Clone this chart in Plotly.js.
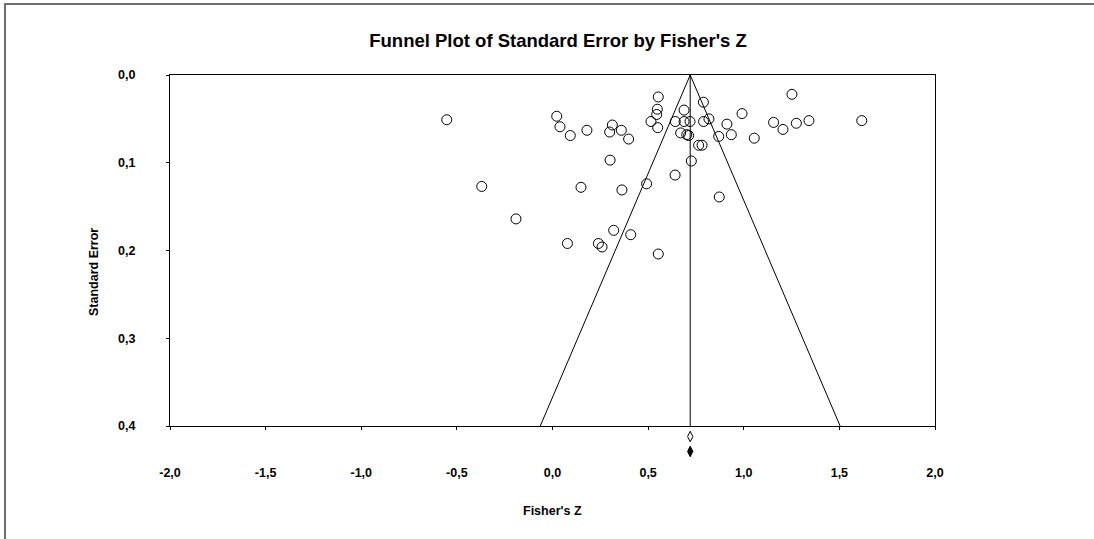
<!DOCTYPE html>
<html>
<head>
<meta charset="utf-8">
<script src="https://cdn.plot.ly/plotly-3.0.1.min.js"></script>
<style>
  html, body { margin: 0; padding: 0; background: #fff; }
  #wrap { position: relative; width: 1094px; height: 539px; overflow: hidden; }
  #chart { position: absolute; left: 0; top: 0; width: 1094px; height: 539px; }
  .edge { position: absolute; background: #6e6e6e; }
</style>
</head>
<body>
<div id="wrap">
  <div id="chart"></div>
  <div class="edge" style="left:4px; top:3px; width:1090px; height:2px;"></div>
  <div class="edge" style="left:4px; top:3px; width:2px; height:536px;"></div>
</div>
<script>
// Study effect sizes (Fisher's Z) and their standard errors
const fisherZ = [
  -0.553, 0.022, 0.039, 0.093, 0.180, 0.313, 0.299, 0.360, 0.398, 0.301,
  0.553, 0.548, 0.545, 0.515, 0.550, 0.688, 0.642, 0.688, 0.719, 0.670,
  0.702, 0.712, 0.726, 0.641, 0.492, 0.363, 0.149, -0.370, -0.191, 0.078,
  0.240, 0.259, 0.320, 0.409, 0.553, 0.789, 0.790, 0.818, 0.764, 0.782,
  0.869, 0.912, 0.935, 0.991, 1.055, 0.872, 1.156, 1.205, 1.252, 1.275,
  1.341, 1.617
];
const stdErr = [
  0.051, 0.047, 0.059, 0.069, 0.063, 0.057, 0.065, 0.063, 0.073, 0.097,
  0.025, 0.039, 0.045, 0.053, 0.060, 0.040, 0.053, 0.053, 0.053, 0.066,
  0.068, 0.069, 0.098, 0.114, 0.124, 0.131, 0.128, 0.127, 0.164, 0.192,
  0.192, 0.196, 0.177, 0.182, 0.204, 0.031, 0.053, 0.050, 0.080, 0.080,
  0.070, 0.056, 0.068, 0.044, 0.072, 0.139, 0.054, 0.062, 0.022, 0.055,
  0.052, 0.052
];

// Pooled estimate and 95% funnel limits
const pooledZ = 0.72;
const funnelSE = [0.4, 0.0, 0.4];
const funnelZ = [-0.064, 0.72, 1.504];
const centerSE = [0.0, 0.4];

// Summary diamonds drawn under the axis (observed / adjusted)
const summaryZ = [0.72, 0.72];
const summarySE = [0.412, 0.429];

// Axis ticks
const xTickVals = [-2.0, -1.5, -1.0, -0.5, 0.0, 0.5, 1.0, 1.5, 2.0];
const xTickText = ['-2,0', '-1,5', '-1,0', '-0,5', '0,0', '0,5', '1,0', '1,5', '2,0'];
const yTickVals = [0.0, 0.1, 0.2, 0.3, 0.4];
const yTickText = ['0,0', '0,1', '0,2', '0,3', '0,4'];

const FONT = 'Liberation Sans, Arial, sans-serif';

// Plot area runs from 75px to 460px; the funnel panel ends at 426px,
// the strip below it holds the summary diamonds.
const PLOT_TOP = 75, PLOT_BOTTOM = 460, FUNNEL_BOTTOM = 426;
const split = (PLOT_BOTTOM - FUNNEL_BOTTOM) / (PLOT_BOTTOM - PLOT_TOP);
const seMax = 0.4;
const stripMax = seMax + seMax * (PLOT_BOTTOM - FUNNEL_BOTTOM) / (FUNNEL_BOTTOM - PLOT_TOP);

const traces = [
  {
    x: funnelZ, y: funnelSE, type: 'scatter', mode: 'lines',
    line: { color: '#000', width: 1 }, hoverinfo: 'skip', showlegend: false
  },
  {
    x: [pooledZ, pooledZ], y: centerSE, type: 'scatter', mode: 'lines',
    line: { color: '#000', width: 1 }, hoverinfo: 'skip', showlegend: false
  },
  {
    x: fisherZ, y: stdErr, type: 'scatter', mode: 'markers',
    marker: { symbol: 'circle-open', size: 10, color: '#000', line: { color: '#000', width: 1 } },
    showlegend: false
  },
  {
    x: [summaryZ[0]], y: [summarySE[0]], type: 'scatter', mode: 'markers', yaxis: 'y2',
    marker: { symbol: 'diamond-tall-open', size: 7.5, color: '#000', line: { color: '#000', width: 1 } },
    showlegend: false
  },
  {
    x: [summaryZ[1]], y: [summarySE[1]], type: 'scatter', mode: 'markers', yaxis: 'y2',
    marker: { symbol: 'diamond-tall', size: 7.5, color: '#000', line: { color: '#000', width: 1 } },
    showlegend: false
  }
];

const layout = {
  width: 1094, height: 539,
  paper_bgcolor: '#fff', plot_bgcolor: '#fff',
  margin: { l: 170, r: 159, t: PLOT_TOP, b: 539 - PLOT_BOTTOM },
  font: { family: FONT, color: '#000', size: 12.5 },
  title: {
    text: "<b>Funnel Plot of Standard Error by Fisher's Z</b>",
    font: { family: FONT, size: 18.5, color: '#000' },
    x: 558 / 1094, xref: 'container', xanchor: 'center',
    y: 1 - 41 / 539, yref: 'container', yanchor: 'middle'
  },
  xaxis: {
    range: [-2, 2], autorange: false, anchor: 'y',
    tickmode: 'array', tickvals: xTickVals, ticktext: xTickText,
    ticks: 'outside', ticklen: 3, tickcolor: '#000', tickwidth: 1,
    ticklabelstandoff: 32,
    tickfont: { family: FONT, size: 12.5, color: '#000', weight: 'bold' },
    showgrid: false, zeroline: false,
    showline: true, linecolor: '#000', linewidth: 1, mirror: true
  },
  yaxis: {
    domain: [split, 1],
    range: [seMax, 0], autorange: false,
    tickmode: 'array', tickvals: yTickVals, ticktext: yTickText,
    ticks: 'outside', ticklen: 3, tickcolor: '#000', tickwidth: 1,
    ticklabelstandoff: 28,
    tickfont: { family: FONT, size: 12.5, color: '#000', weight: 'bold' },
    showgrid: false, zeroline: false,
    showline: true, linecolor: '#000', linewidth: 1, mirror: true
  },
  yaxis2: {
    domain: [0, split], anchor: 'x',
    range: [stripMax, seMax], autorange: false,
    visible: false, showgrid: false, zeroline: false
  },
  annotations: [
    {
      text: '<b>Standard Error</b>', textangle: -90,
      xref: 'paper', yref: 'paper', x: 0, y: 0.5,
      xshift: -77, yshift: -4.5, showarrow: false,
      font: { family: FONT, size: 12.5, color: '#000' }
    },
    {
      text: "<b>Fisher's Z</b>",
      xref: 'paper', yref: 'paper', x: 0.5, y: 0,
      yshift: -50, showarrow: false,
      font: { family: FONT, size: 12.5, color: '#000' }
    }
  ]
};

// Fine placement of the two axis captions relative to the plot frame
layout.annotations[0].xshift = -85;
layout.annotations[1].yshift = -60;

Plotly.newPlot('chart', traces, layout, { displayModeBar: false, staticPlot: true });
</script>
</body>
</html>
